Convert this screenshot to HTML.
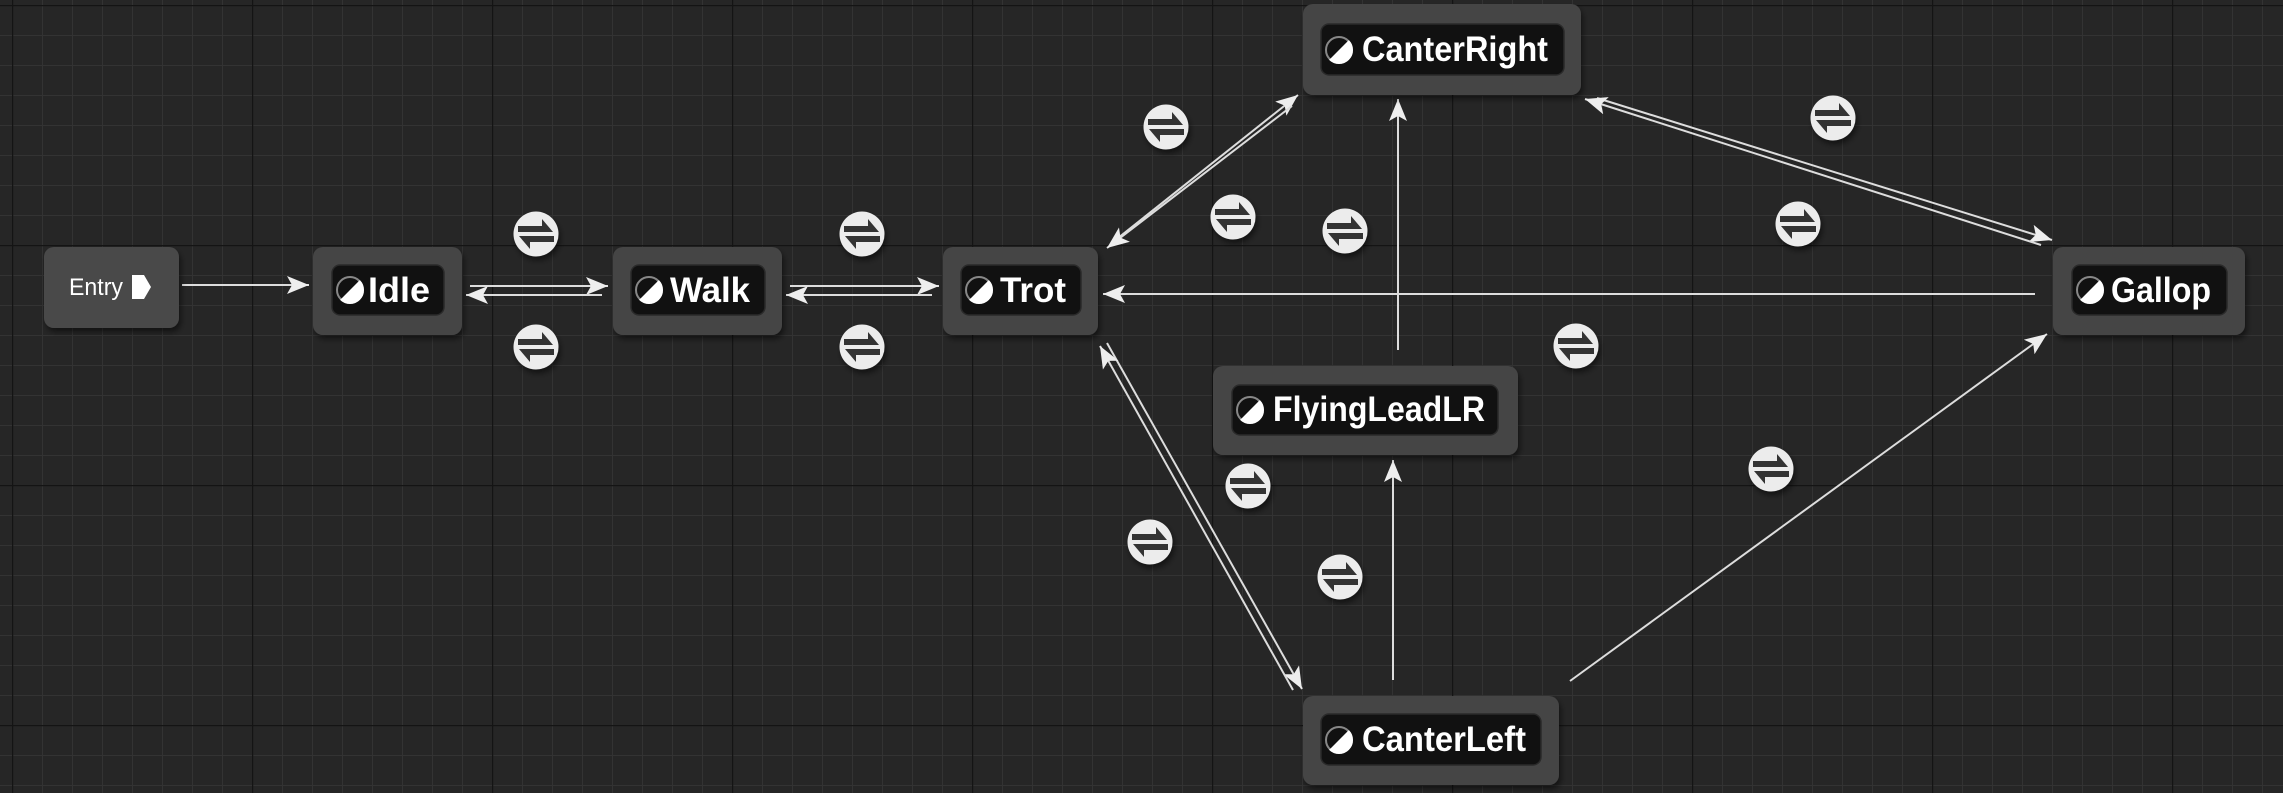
<!DOCTYPE html>
<html><head><meta charset="utf-8"><style>
html,body{margin:0;padding:0;background:#262626;}
svg{display:block;}
text{font-family:"Liberation Sans",sans-serif;font-weight:bold;fill:#fff;}
</style></head><body>
<svg width="2283" height="793" viewBox="0 0 2283 793" xmlns="http://www.w3.org/2000/svg">
<defs>
<pattern id="minor" x="12" y="5" width="30" height="30" patternUnits="userSpaceOnUse">
<path d="M0 0V30M0 0H30" stroke="#333" stroke-width="2" fill="none"/>
</pattern>
<pattern id="major" x="12" y="5" width="240" height="240" patternUnits="userSpaceOnUse">
<path d="M0 0V240M0 0H240" stroke="#141414" stroke-width="2.5" fill="none"/>
</pattern>
<filter id="sh" x="-30%" y="-30%" width="160%" height="160%"><feDropShadow dx="2" dy="4" stdDeviation="3" flood-color="#000" flood-opacity="0.5"/></filter>
<g id="ti">
<circle r="22.5" fill="#ececec" filter="url(#sh)"/>
<path d="M-18 -8H6V-15L17 -2H-18Z" fill="#333"/>
<path d="M18 2H-17L-6 15V8H18Z" fill="#333"/>
</g>
<g id="ic">
<circle r="13" fill="#111" stroke="#888" stroke-width="2"/>
<path d="M9.2 -9.2A13 13 0 0 1 -9.2 9.2Z" fill="#fff"/>
<path d="M9.2 -9.2A13 13 0 0 1 -9.2 9.2" fill="none" stroke="#fff" stroke-width="2"/>
</g>
<marker id="ah" viewBox="0 0 22 18" refX="22" refY="9" markerWidth="22" markerHeight="18" markerUnits="userSpaceOnUse" orient="auto">
<path d="M0 0L22 9L0 18L5 9Z" fill="#eee"/>
</marker>
</defs>
<rect width="2283" height="793" fill="#262626"/>
<rect width="2283" height="793" fill="url(#minor)"/>
<rect width="2283" height="793" fill="url(#major)"/>

<g stroke="#ddd" stroke-width="2" fill="none">
<line x1="182" y1="285" x2="309" y2="285" marker-end="url(#ah)"/>
<line x1="470" y1="286" x2="608" y2="286" marker-end="url(#ah)"/>
<line x1="602" y1="295" x2="466" y2="295" marker-end="url(#ah)"/>
<line x1="790" y1="286" x2="939" y2="286" marker-end="url(#ah)"/>
<line x1="932" y1="295" x2="786" y2="295" marker-end="url(#ah)"/>
<line x1="1113" y1="242" x2="1298" y2="95" marker-end="url(#ah)"/>
<line x1="1292" y1="106" x2="1107" y2="248" marker-end="url(#ah)"/>
<line x1="1398" y1="350" x2="1398" y2="99" marker-end="url(#ah)"/>
<line x1="1393" y1="680" x2="1393" y2="460" marker-end="url(#ah)"/>
<line x1="2035" y1="294" x2="1103" y2="294" marker-end="url(#ah)"/>
<line x1="1597" y1="98" x2="2052" y2="240" marker-end="url(#ah)"/>
<line x1="2041" y1="245" x2="1585" y2="99" marker-end="url(#ah)"/>
<line x1="1107" y1="343" x2="1302" y2="689" marker-end="url(#ah)"/>
<line x1="1293" y1="690" x2="1100" y2="346" marker-end="url(#ah)"/>
<line x1="1570" y1="681" x2="2047" y2="334" marker-end="url(#ah)"/>
</g>

<g filter="url(#sh)">
<rect x="44" y="247" width="135" height="81" rx="10" fill="#4a4a4a"/>
<rect x="313" y="247" width="149" height="88" rx="10" fill="#454545"/>
<rect x="613" y="247" width="169" height="88" rx="10" fill="#454545"/>
<rect x="943" y="247" width="155" height="88" rx="10" fill="#454545"/>
<rect x="1303" y="4" width="278" height="91" rx="10" fill="#454545"/>
<rect x="1213" y="366" width="305" height="89" rx="10" fill="#454545"/>
<rect x="1303" y="696" width="256" height="89" rx="10" fill="#454545"/>
<rect x="2053" y="247" width="192" height="88" rx="10" fill="#454545"/>
</g>
<g fill="#111" stroke="#2a2a2a" stroke-width="1.5">
<rect x="332" y="265" width="112" height="50" rx="8"/>
<rect x="631" y="265" width="134" height="50" rx="8"/>
<rect x="961" y="265" width="120" height="50" rx="8"/>
<rect x="1321" y="24" width="243" height="51" rx="8"/>
<rect x="1232" y="385" width="266" height="50" rx="8"/>
<rect x="1321" y="714" width="220" height="51" rx="8"/>
<rect x="2072" y="265" width="155" height="50" rx="8"/>
</g>
<use href="#ic" x="350" y="290"/>
<use href="#ic" x="649" y="290"/>
<use href="#ic" x="979" y="290"/>
<use href="#ic" x="1339" y="50"/>
<use href="#ic" x="1250" y="410"/>
<use href="#ic" x="1339" y="740"/>
<use href="#ic" x="2090" y="290"/>

<text x="69" y="295" font-size="24" style="font-weight:normal" textLength="54" lengthAdjust="spacingAndGlyphs">Entry</text>
<path d="M132 275H144L151 287L144 299H132Z" fill="#fff"/>
<g font-size="35">
<text x="368" y="302" textLength="62" lengthAdjust="spacingAndGlyphs">Idle</text>
<text x="670" y="302" textLength="80" lengthAdjust="spacingAndGlyphs">Walk</text>
<text x="1000" y="302" textLength="66" lengthAdjust="spacingAndGlyphs">Trot</text>
<text x="1362" y="61" textLength="186" lengthAdjust="spacingAndGlyphs">CanterRight</text>
<text x="1273" y="421" textLength="212" lengthAdjust="spacingAndGlyphs">FlyingLeadLR</text>
<text x="1362" y="751" textLength="164" lengthAdjust="spacingAndGlyphs">CanterLeft</text>
<text x="2111" y="302" textLength="100" lengthAdjust="spacingAndGlyphs">Gallop</text>
</g>

<use href="#ti" x="536" y="234"/>
<use href="#ti" x="536" y="347"/>
<use href="#ti" x="862" y="234"/>
<use href="#ti" x="862" y="347"/>
<use href="#ti" x="1166" y="127"/>
<use href="#ti" x="1233" y="217"/>
<use href="#ti" x="1345" y="231"/>
<use href="#ti" x="1833" y="118"/>
<use href="#ti" x="1798" y="224"/>
<use href="#ti" x="1576" y="346"/>
<use href="#ti" x="1248" y="486"/>
<use href="#ti" x="1150" y="542"/>
<use href="#ti" x="1340" y="577"/>
<use href="#ti" x="1771" y="469"/>
</svg>
</body></html>
